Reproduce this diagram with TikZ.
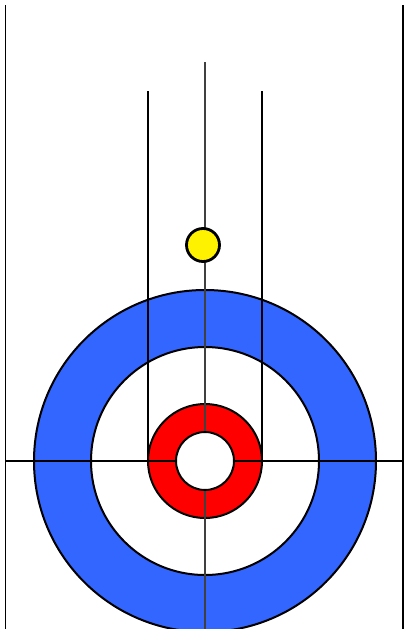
\documentclass[tikz,border=0pt]{standalone}
\begin{document}
\begin{tikzpicture}[x=1pt,y=-1pt,
  ring/.style={draw=black,line width=2pt},
  sheetline/.style={draw=black,line width=1.8pt},
  centreline/.style={draw=black!75,line width=1.4pt}]
\useasboundingbox (0,0) rectangle (404,629);
\fill[white] (0,0) rectangle (404,629);
\begin{scope}
\clip (0,0) rectangle (404,629);
\coordinate (tee) at (205,461);
\filldraw[ring,fill={rgb,255:red,51;green,102;blue,255}] (tee) circle (171);
\filldraw[ring,fill=white] (tee) circle (114);
\filldraw[ring,fill=red] (tee) circle (57);
% lines
\coordinate (lt) at (5.5,5);
\coordinate (lb) at (5.5,629);
\coordinate (rt) at (403,5);
\coordinate (rb) at (403,629);
\draw[sheetline] (lt) -- (lb);
\draw[sheetline] (rt) -- (rb);
\coordinate (tl) at (5.5,461);
\coordinate (tr) at (403,461);
\draw[sheetline,line width=1.5pt] (tl) -- (tr);
\coordinate (ct) at (205,62);
\coordinate (cb) at (205,629);
\draw[centreline] (ct) -- (cb);
\coordinate (slt) at (148,91);
\coordinate (slb) at (148,461);
\coordinate (srt) at (262,91);
\coordinate (srb) at (262,461);
\draw[sheetline] (slt) -- (slb);
\draw[sheetline] (srt) -- (srb);
\filldraw[ring,fill=white] (tee) circle (29);
\filldraw[ring,line width=2.8pt,fill=yellow] (203,245) circle (16.5);
\end{scope}
\end{tikzpicture}
\end{document}
